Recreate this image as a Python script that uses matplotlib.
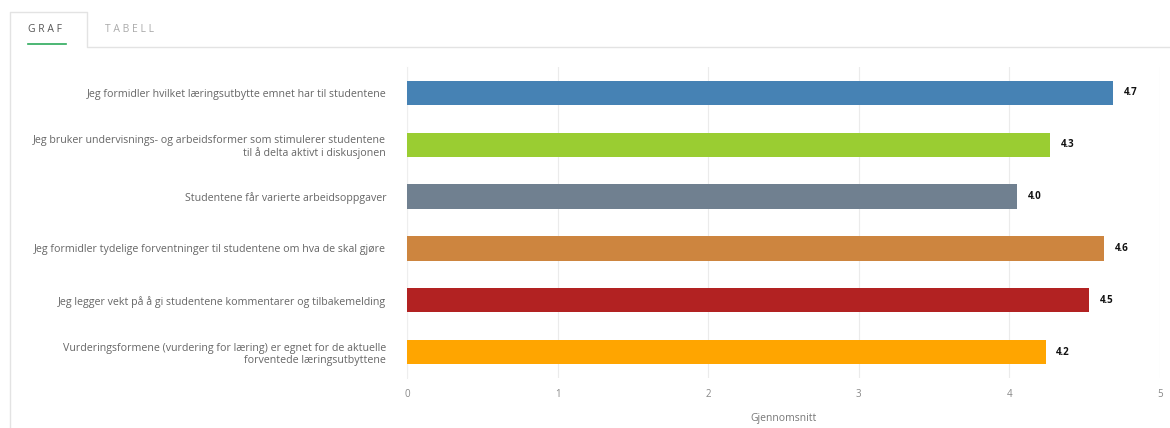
import matplotlib.pyplot as plt
from matplotlib.lines import Line2D

categories = [
    "Jeg formidler hvilket læringsutbytte emnet har til studentene",
    "Jeg bruker undervisnings- og arbeidsformer som stimulerer studentene\ntil å delta aktivt i diskusjonen",
    "Studentene får varierte arbeidsoppgaver",
    "Jeg formidler tydelige forventninger til studentene om hva de skal gjøre",
    "Jeg legger vekt på å gi studentene kommentarer og tilbakemelding",
    "Vurderingsformene (vurdering for læring) er egnet for de aktuelle\nforventede læringsutbyttene",
]
values = [4.69, 4.27, 4.05, 4.63, 4.53, 4.24]
value_labels = ["4.7", "4.3", "4.0", "4.6", "4.5", "4.2"]
colors = ["#4682B4", "#9ACD32", "#708090", "#CD853F", "#B22222", "#FFA500"]
x_ticks = [0, 1, 2, 3, 4, 5]

plt.rcParams['font.family'] = ['Open Sans', 'DejaVu Sans']

W, H = 1170, 428
fig = plt.figure(figsize=(W / 100, H / 100), dpi=100)

# tab header and panel frame
def px(x, y):
    return x / W, 1 - y / H

frame = [(10, 428), (10, 12), (87, 12), (87, 47), (1170, 47)]
xs, ys = zip(*[px(*p) for p in frame])
fig.add_artist(Line2D(xs, ys, color="#e3e3e3", lw=1))
xs, ys = zip(*[px(28, 44), px(66, 44)])
fig.add_artist(Line2D(xs, ys, color="#2eaa5c", lw=1.2))
fig.text(*px(28, 30), "G R A F", fontsize=7.5, color="#555555", va="center")
fig.text(*px(105, 30), "T A B E L L", fontsize=7.5, color="#aaaaaa", va="center")

ax = fig.add_axes([407 / W, 1 - 378 / H, (1160 - 407) / W, (378 - 67) / H])
y = list(range(len(categories)))
ax.barh(y, values, height=0.47, color=colors, zorder=3)
for yi, v, lab in zip(y, values, value_labels):
    ax.text(v + 0.07, yi, lab, va="center", ha="left", fontsize=7,
            fontweight="bold", color="#111111")

ax.set_xlim(0, 5)
ax.set_ylim(len(categories) - 0.5, -0.5)
ax.set_yticks(y)
ax.set_yticklabels(categories, fontsize=7.7, color="#666666")
ax.tick_params(axis="y", length=0, pad=15)
ax.set_xticks(x_ticks)
ax.set_xticklabels([str(t) for t in x_ticks], fontsize=7, color="#888888")
ax.tick_params(axis="x", length=0, pad=8)
ax.grid(axis="x", color="#ebebeb", lw=0.8, zorder=0)
for s in ["top", "right", "bottom"]:
    ax.spines[s].set_visible(False)
ax.spines["left"].set_color("#eeeeee")
ax.set_xlabel("Gjennomsnitt", fontsize=7.5, color="#777777", labelpad=9)

fig.savefig("out.png", dpi=100)
